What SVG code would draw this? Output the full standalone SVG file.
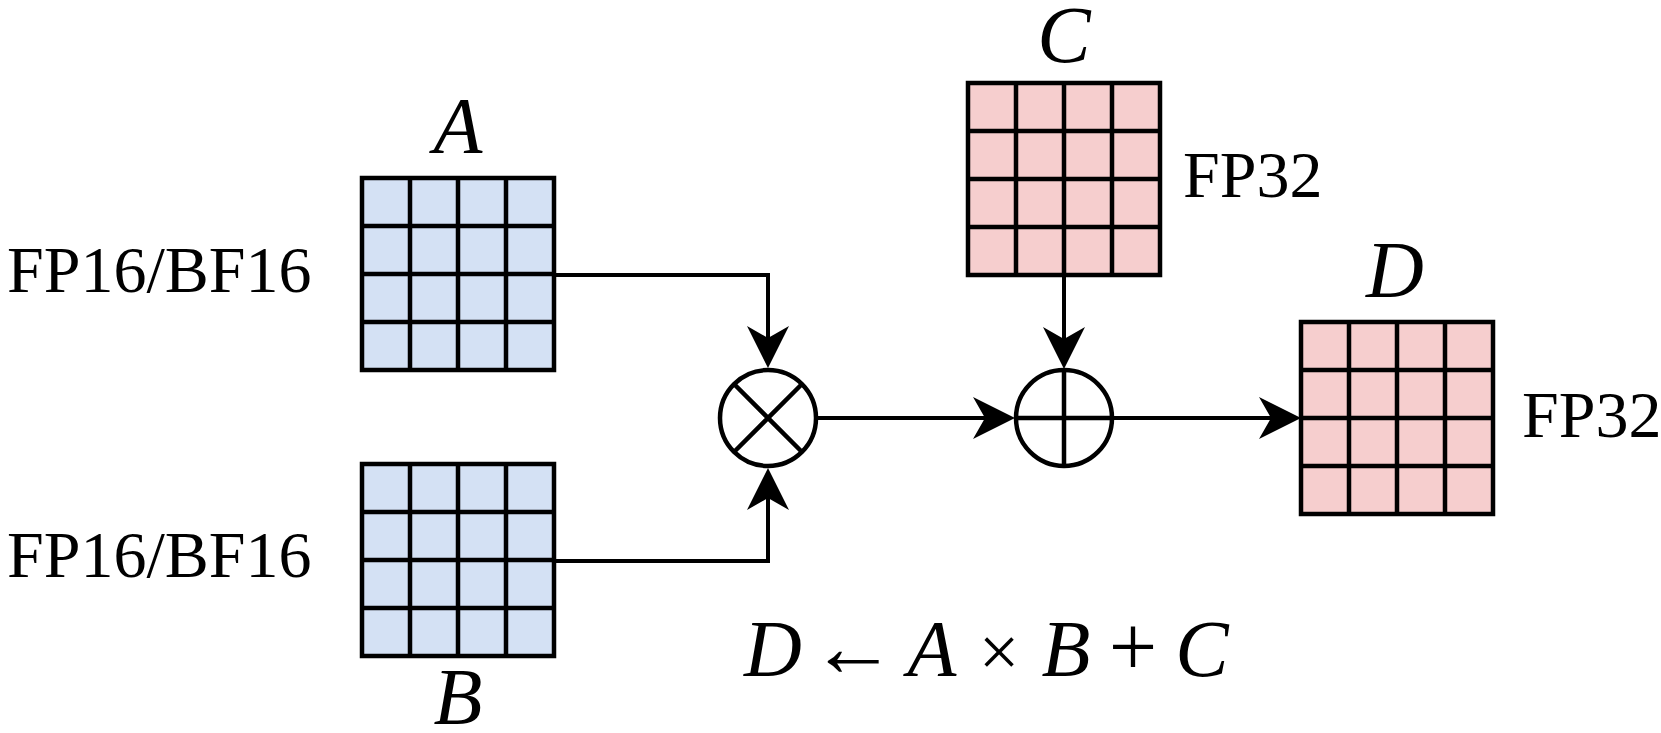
<svg xmlns="http://www.w3.org/2000/svg" width="1661" height="733" viewBox="0 0 1661 733">
<g id="connectors" stroke="#000" stroke-width="4" fill="none">
<path d="M554,275 H768 V338"/>
<path d="M554,561 H768 V498"/>
<path d="M816,418 H985"/>
<path d="M1064,275 V339"/>
<path d="M1112,418 H1271"/>
<g fill="#000" stroke="none">
<path d="M768,368 L747,326 L768,338 L789,326 Z"/>
<path d="M768,468 L747,510 L768,498 L789,510 Z"/>
<path d="M1015,418 L973,397 L985,418 L973,439 Z"/>
<path d="M1064,369 L1043,327 L1064,339 L1085,327 Z"/>
<path d="M1301,418 L1259,397 L1271,418 L1259,439 Z"/>
</g>
</g>

<g id="matA">
<rect fill="#d4e1f4" stroke="#000" stroke-width="4.5" x="362" y="178" width="192" height="192"/>
<path stroke="#000" stroke-width="4.5" fill="none" d="M410,178V370M458,178V370M506,178V370M362,226H554M362,274H554M362,322H554"/>
<text font-family="Liberation Serif" font-style="italic" font-size="80" text-anchor="middle" x="458" y="153">A</text>
<text font-family="Liberation Serif" font-size="66" x="7" y="292">FP16/BF16</text>
</g>

<g id="matB">
<rect fill="#d4e1f4" stroke="#000" stroke-width="4.5" x="362" y="464" width="192" height="192"/>
<path stroke="#000" stroke-width="4.5" fill="none" d="M410,464V656M458,464V656M506,464V656M362,512H554M362,560H554M362,608H554"/>
<text font-family="Liberation Serif" font-style="italic" font-size="80" text-anchor="middle" x="458" y="724">B</text>
<text font-family="Liberation Serif" font-size="66" x="7" y="577">FP16/BF16</text>
</g>

<g id="matC">
<rect fill="#f6cece" stroke="#000" stroke-width="4.5" x="968" y="83" width="192" height="192"/>
<path stroke="#000" stroke-width="4.5" fill="none" d="M1016,83V275M1064,83V275M1112,83V275M968,131H1160M968,179H1160M968,227H1160"/>
<text font-family="Liberation Serif" font-style="italic" font-size="80" text-anchor="middle" x="1064" y="62">C</text>
<text font-family="Liberation Serif" font-size="66" x="1183" y="197">FP32</text>
</g>

<g id="matD">
<rect fill="#f6cece" stroke="#000" stroke-width="4.5" x="1301" y="322" width="192" height="192"/>
<path stroke="#000" stroke-width="4.5" fill="none" d="M1349,322V514M1397,322V514M1445,322V514M1301,370H1493M1301,418H1493M1301,466H1493"/>
<text font-family="Liberation Serif" font-style="italic" font-size="80" text-anchor="middle" x="1395" y="297">D</text>
<text font-family="Liberation Serif" font-size="66" x="1522" y="437">FP32</text>
</g>

<g id="mul" stroke="#000" stroke-width="4.5">
<circle fill="#fff" cx="768" cy="418" r="48"/>
<path fill="none" d="M734,384 L802,452 M802,384 L734,452"/>
</g>

<g id="add" stroke="#000" stroke-width="4.5">
<circle fill="#fff" cx="1064" cy="418" r="48"/>
<path fill="none" d="M1064,370 V466 M1016,418 H1112"/>
</g>

<g id="formula">
<text font-family="Liberation Serif" font-style="italic" font-size="80" text-anchor="middle" x="773" y="676">D</text>
<text font-family="Liberation Serif" font-size="86" text-anchor="middle" x="853" y="676">←</text>
<text font-family="Liberation Serif" font-style="italic" font-size="80" text-anchor="middle" x="932" y="676">A</text>
<text font-family="Liberation Serif" font-size="72" text-anchor="middle" x="999" y="676">×</text>
<text font-family="Liberation Serif" font-style="italic" font-size="80" text-anchor="middle" x="1066" y="676">B</text>
<text font-family="Liberation Serif" font-size="86" text-anchor="middle" x="1133" y="676">+</text>
<text font-family="Liberation Serif" font-style="italic" font-size="80" text-anchor="middle" x="1202" y="676">C</text>
</g>
</svg>
